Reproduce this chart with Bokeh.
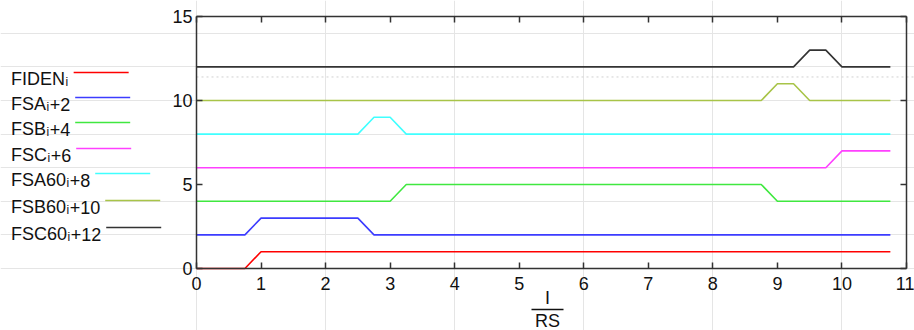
from bokeh.plotting import figure
from bokeh.models import Range1d, LinearAxis, FixedTicker, ColumnDataSource
from bokeh.embed import file_html
from bokeh.resources import INLINE
from bokeh.core.properties import value

# ---------------- data ----------------
series_names = ["FIDEN", "FSA", "FSB", "FSC", "FSA60", "FSB60", "FSC60"]
series_suffix = ["", "+2", "+4", "+6", "+8", "+10", "+12"]
series_colors = ["#ff0000", "#3c3cff", "#40e840", "#ff40ff", "#40ffff", "#a8c448", "#333333"]

fiden_x = [0, 0.75, 1.0, 10.75]
fiden_y = [0, 0, 1, 1]
fsa_x = [0, 0.75, 1.0, 2.5, 2.75, 10.75]
fsa_y = [2, 2, 3, 3, 2, 2]
fsb_x = [0, 3.0, 3.25, 8.75, 9.0, 10.75]
fsb_y = [4, 4, 5, 5, 4, 4]
fsc_x = [0, 9.75, 10.0, 10.75]
fsc_y = [6, 6, 7, 7]
fsa60_x = [0, 2.5, 2.75, 3.0, 3.25, 10.75]
fsa60_y = [8, 8, 9, 9, 8, 8]
fsb60_x = [0, 8.75, 9.0, 9.25, 9.5, 10.75]
fsb60_y = [10, 10, 11, 11, 10, 10]
fsc60_x = [0, 9.25, 9.5, 9.75, 10.0, 10.75]
fsc60_y = [12, 12, 13, 13, 12, 12]

x_ticks = [0, 1, 2, 3, 4, 5, 6, 7, 8, 9, 10, 11]
y_ticks = [0, 5, 10, 15]
x_min, x_max = 0, 11
y_min, y_max = 0, 15
ref_level = 11.4
x_label_top = "I"
x_label_bottom = "RS"

xs_all = [fiden_x, fsa_x, fsb_x, fsc_x, fsa60_x, fsb60_x, fsc60_x]
ys_all = [fiden_y, fsa_y, fsb_y, fsc_y, fsa60_y, fsb60_y, fsc60_y]

# ---------------- layout constants (pixels) ----------------
W, H = 914, 330
FL, FR, FT, FB = 196, 906, 16, 268     # where the axes box sits on the canvas
FONT = "Liberation Sans"
FS = 18
SUB_FS = 12
AXC = "#333333"
TXT = "#111111"

PPX = (FR - FL) / (x_max - x_min)
PPY = (FB - FT) / (y_max - y_min)


def px2x(px):
    return x_min + (px - FL) / PPX


def py2y(py):
    return y_min + (FB - py) / PPY


# Arial / Liberation Sans advance widths (per 1000 em)
ADV = {"F": 611, "I": 278, "D": 722, "E": 667, "N": 722, "S": 667, "A": 667,
       "B": 667, "C": 722, "0": 556, "1": 556, "2": 556, "4": 556, "6": 556,
       "8": 556, "+": 584, "i": 222}


def tw(s, size):
    return sum(ADV.get(c, 556) for c in s) * size / 1000.0


# The plotting frame covers the whole canvas; the axes are placed at fixed
# data locations so that the legend and the fraction label can live around them.
p = figure(width=W, height=H, x_range=Range1d(px2x(0), px2x(W)), y_range=Range1d(py2y(H), py2y(0)),
           output_backend="svg", toolbar_location=None, min_border=0,
           x_axis_location=None, y_axis_location=None)
p.outline_line_color = None
p.background_fill_color = None
p.border_fill_color = None


def make_axis(ticks, bounds, loc, labels):
    ax = LinearAxis(ticker=FixedTicker(ticks=ticks), bounds=bounds, fixed_location=loc)
    ax.major_tick_in = 6
    ax.major_tick_out = 0
    ax.minor_tick_line_color = None
    ax.axis_line_color = AXC
    ax.axis_line_width = 1.5
    ax.major_tick_line_color = AXC
    ax.major_tick_line_width = 1.5
    ax.major_label_text_font = FONT
    ax.major_label_text_font_size = f"{FS}px"
    ax.major_label_text_color = TXT if labels else None
    return ax


bottom_ax = make_axis(x_ticks, (x_min, x_max), y_min, True)
bottom_ax.major_label_standoff = 8
left_ax = make_axis(y_ticks, (y_min, y_max), x_min, True)
left_ax.major_label_standoff = 4
top_ax = make_axis(x_ticks, (x_min, x_max), y_max, False)
right_ax = make_axis(y_ticks, (y_min, y_max), x_max, False)
p.add_layout(bottom_ax, "below")
p.add_layout(left_ax, "left")
p.add_layout(top_ax, "above")
p.add_layout(right_ax, "right")

# light dotted reference line
p.segment([x_min], [ref_level], [px2x(W - 1)], [ref_level], line_color="#d0d0d0",
          line_width=1, line_dash="2 3")

for xs, ys, c in zip(xs_all, ys_all, series_colors):
    p.line(xs, ys, line_color=c, line_width=1.6)

# fraction axis label  I / RS
fcx = px2x(547)
p.text([fcx], [py2y(297)], text=[x_label_top], text_align="center", text_baseline="middle",
       text_font=value(FONT), text_font_size=value(f"{FS}px"), text_color=TXT)
p.segment([px2x(531)], [py2y(309)], [px2x(563)], [py2y(309)], line_color=TXT, line_width=1.5)
p.text([fcx], [py2y(320)], text=[x_label_bottom], text_align="center", text_baseline="middle",
       text_font=value(FONT), text_font_size=value(f"{FS}px"), text_color=TXT)

# ---------------- legend on the left ----------------
row_py = [72, 97, 122, 148, 173, 200, 227]
x0 = 10.5
main = dict(x=[], y=[], t=[])
sub = dict(x=[], y=[], t=[])
suf = dict(x=[], y=[], t=[])
seg = dict(x0=[], x1=[], y=[], c=[])
for name, sfx, c, ry in zip(series_names, series_suffix, series_colors, row_py):
    base = ry + 6.5
    main["x"].append(px2x(x0)); main["y"].append(py2y(base)); main["t"].append(name)
    xsub = x0 + tw(name, FS) + 0.5
    sub["x"].append(px2x(xsub)); sub["y"].append(py2y(base + 2.5)); sub["t"].append("i")
    xsuf = xsub + tw("i", SUB_FS) + 0.5
    if sfx:
        suf["x"].append(px2x(xsuf)); suf["y"].append(py2y(base)); suf["t"].append(sfx)
    end = xsuf + tw(sfx, FS)
    seg["x0"].append(px2x(end + 5))
    seg["x1"].append(px2x(end + 60))
    seg["y"].append(py2y(ry))
    seg["c"].append(c)

for d, size in ((main, FS), (sub, SUB_FS), (suf, FS)):
    p.text("x", "y", text="t", source=ColumnDataSource(d), text_font=value(FONT),
           text_font_size=value(f"{size}px"), text_baseline="alphabetic", text_color=TXT)
p.segment(x0="x0", y0="y", x1="x1", y1="y", line_color="c", line_width=1.6,
          source=ColumnDataSource(seg))

open("out.html", "w").write(file_html(p, INLINE))
